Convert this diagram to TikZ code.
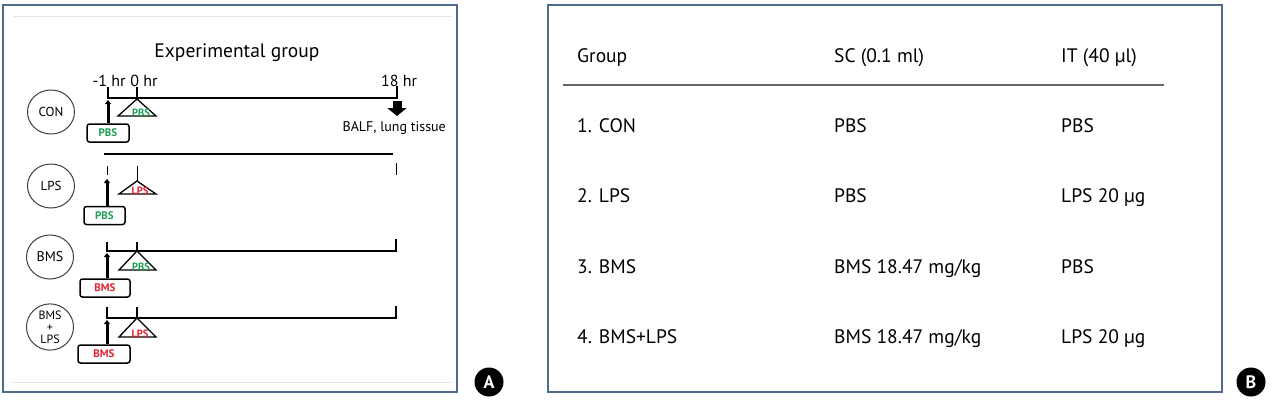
\documentclass[tikz,border=0pt]{standalone}
\usepackage{fontspec}
\setmainfont{PT Sans}
\usetikzlibrary{shapes.geometric,arrows.meta,positioning}
\definecolor{frame}{HTML}{4E6A8C}
\definecolor{faint}{HTML}{DCE7E6}
\definecolor{pbsgreen}{HTML}{1E9E55}
\definecolor{lpsred}{HTML}{E02130}

\tikzset{
  grp/.style={draw=black!75, line width=1, ellipse, minimum width=47, minimum height=44, inner sep=0, align=center, font=\fontsize{13}{10}\selectfont},
  scbox/.style={draw, line width=1.5, rounded corners=2.5, minimum height=18, inner sep=0, font=\bfseries\fontsize{11}{10}\selectfont},
  itlabel/.style={anchor=base, inner sep=0, font=\bfseries\fontsize{10.5}{10}\selectfont},
  tl/.style={line width=1.3},
  inj/.style={line width=3, -{Triangle[length=4,width=6]}},
  bigarr/.style={line width=9, -{Triangle[length=8,width=19]}},
  hr/.style={anchor=base, inner sep=0, font=\fontsize{16}{16}\selectfont},
  cell/.style={anchor=base west, inner sep=0, font=\fontsize{19.5}{21}\selectfont},
  tag/.style={circle, fill=black, text=white, minimum size=29, inner sep=0, font=\bfseries\fontsize{18}{18}\selectfont}
}

\begin{document}
\begin{tikzpicture}[x=1pt,y=-1pt]
  \useasboundingbox (0,0) rectangle (1274,402);

  % Panel A frame
  \draw[frame, line width=1.3] (3,5) rectangle (457,392);
  \draw[faint, line width=0.8] (14,16) -- (452,16);
  \draw[faint, line width=0.8] (13,382) -- (451,382);
  \node[anchor=base, inner sep=0, font=\fontsize{19.5}{20}\selectfont] (title) at (237,57) {Experimental group};

  % Time labels
  \node[hr] (m1) at (109,86) {-1 hr};
  \node[hr] (h0) at (144,86) {0 hr};
  \node[hr] (h18) at (399,86) {18 hr};

  % Group 1: CON
  \node[grp] (con) at (51,112) {CON};
  \draw[tl] (108,87) -- (108,98) -- (397,98) -- (397,86);
  \draw[tl] (137,87) -- (137,98);
  \node[scbox, minimum width=42, text=pbsgreen] (sc1) at (108,133) {PBS};
  \coordinate (t1) at (108,100);
  \draw[inj] (sc1.north) -- (t1);
  \draw[line width=1.3] (137,99) -- (118,116) -- (156,116) -- cycle;
  \node[itlabel, text=pbsgreen] (it1) at (141,116) {PBS};
  \coordinate (b1) at (397,101);
  \coordinate (b2) at (397,116);
  \draw[bigarr] (b1) -- (b2);
  \node[anchor=base east, inner sep=0, font=\fontsize{14}{15}\selectfont] (balf) at (446,131) {BALF, lung tissue};

  % Group 2: LPS
  \node[grp] (lps) at (51,186) {LPS};
  \draw[tl] (104,154) -- (393,154);
  \draw[line width=1] (107,166) -- (107,175);
  \draw[line width=1] (137,166) -- (137,181);
  \draw[line width=1] (396,163) -- (396,175);
  \node[scbox, minimum width=41, text=pbsgreen] (sc2) at (104.5,215.5) {PBS};
  \coordinate (t2) at (107,179);
  \draw[inj] (sc2.north -| t2) -- (t2);
  \draw[line width=1.3] (137,181) -- (119,194) -- (156,194) -- cycle;
  \node[itlabel, text=lpsred] (it2) at (140,194) {LPS};

  % Group 3: BMS
  \node[grp, font=\fontsize{14}{12}\selectfont] (bms) at (50,257) {BMS};
  \draw[tl] (107,242) -- (107,251) -- (396,251) -- (396,239);
  \draw[tl] (137,242) -- (137,251);
  \node[scbox, minimum width=50, text=lpsred] (sc3) at (105,288) {BMS};
  \coordinate (t3) at (107,253);
  \draw[inj] (sc3.north -| t3) -- (t3);
  \draw[line width=1.3] (137,251) -- (119,270) -- (156,270) -- cycle;
  \node[itlabel, text=pbsgreen] (it3) at (141,270) {PBS};

  % Group 4: BMS+LPS
  \node[grp, font=\fontsize{12}{12}\selectfont] (bmslps) at (50,327) {BMS\\+\\LPS};
  \draw[tl] (107,307) -- (107,318) -- (396,318) -- (396,306);
  \draw[tl] (137,307) -- (137,318);
  \node[scbox, minimum width=52, text=lpsred] (sc4) at (104,354) {BMS};
  \coordinate (t4) at (107,320);
  \draw[inj] (sc4.north -| t4) -- (t4);
  \draw[line width=1.3] (137,318) -- (119,337) -- (156,337) -- cycle;
  \node[itlabel, text=lpsred] (it4) at (140,337) {LPS};

  \node[tag] (tagA) at (489,382) {A};

  % Panel B: table
  \draw[frame, line width=1.3] (548,5) rectangle (1222,392);
  \node[cell] (hgrp) at (577,62) {Group};
  \node[cell] (hsc) at (834,62) {SC (0.1 ml)};
  \node[cell] (hit) at (1061,62) {IT (40 µl)};
  \draw[black!60, line width=1.5] (563,85) -- (1164,85);

  \node[cell] (g1) at (577,132) {1. CON};
  \node[cell] (s1) at (834,132) {PBS};
  \node[cell] (i1) at (1061,132) {PBS};

  \node[cell] (g2) at (577,202) {2. LPS};
  \node[cell] (s2) at (834,202) {PBS};
  \node[cell] (i2) at (1061,202) {LPS 20 µg};

  \node[cell] (g3) at (577,273) {3. BMS};
  \node[cell] (s3) at (834,273) {BMS 18.47 mg/kg};
  \node[cell] (i3) at (1061,273) {PBS};

  \node[cell] (g4) at (577,343) {4. BMS+LPS};
  \node[cell] (s4) at (834,343) {BMS 18.47 mg/kg};
  \node[cell] (i4) at (1061,343) {LPS 20 µg};

  \node[tag] (tagB) at (1251,382) {B};
\end{tikzpicture}
\end{document}
